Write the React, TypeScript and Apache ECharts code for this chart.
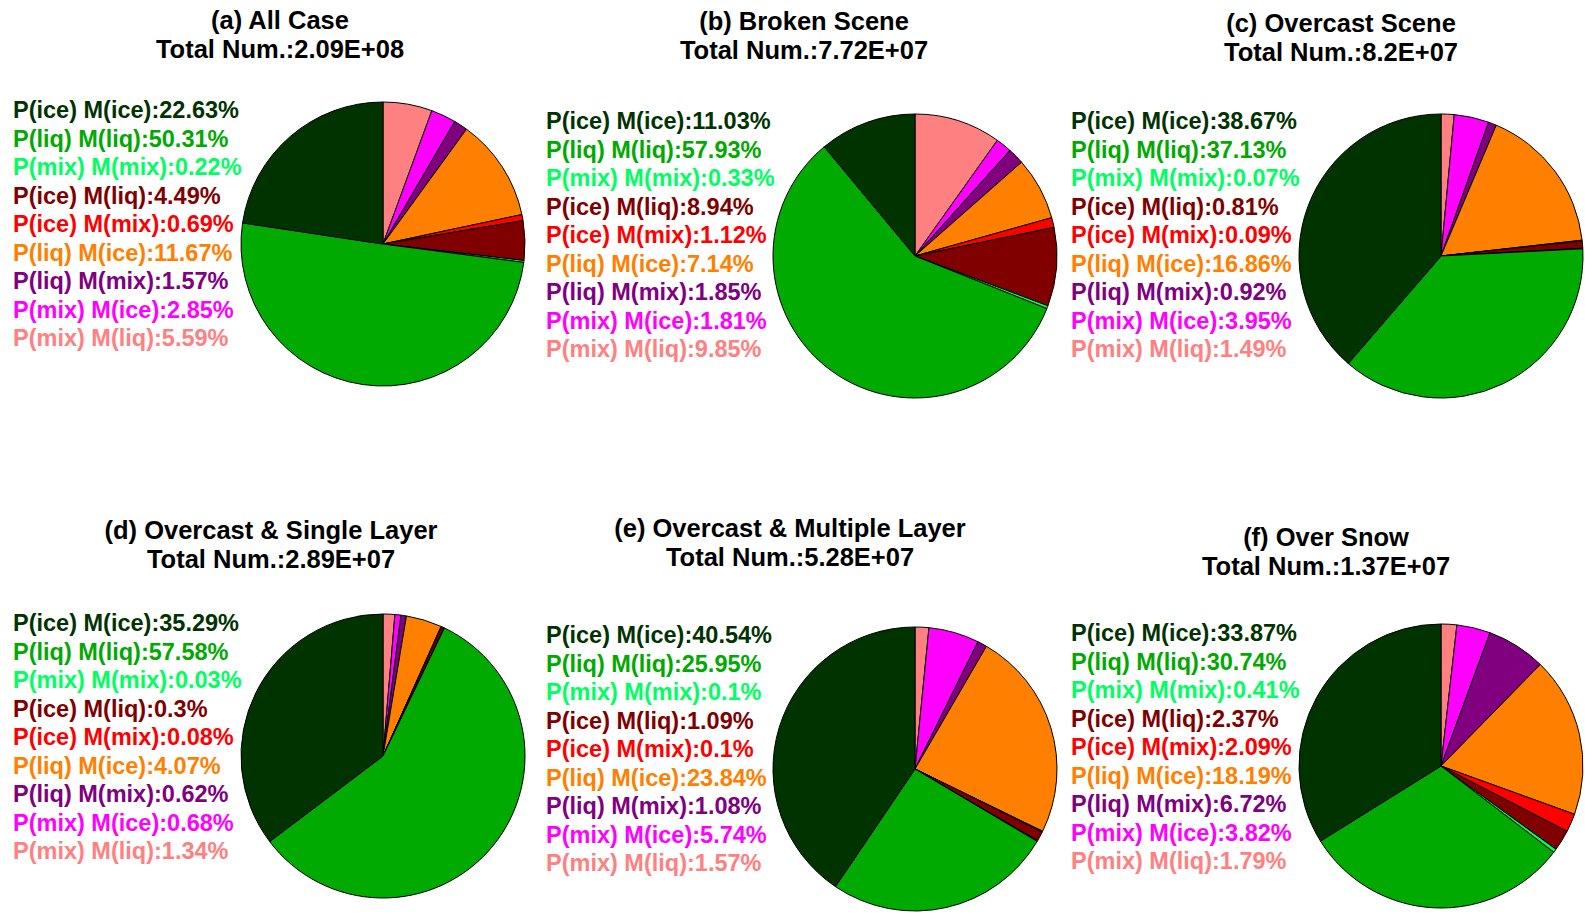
import React, { useEffect, useRef } from "react";
import * as echarts from "echarts";

// ---- Data ----
const categories = [
  "P(ice) M(ice)",
  "P(liq) M(liq)",
  "P(mix) M(mix)",
  "P(ice) M(liq)",
  "P(ice) M(mix)",
  "P(liq) M(ice)",
  "P(liq) M(mix)",
  "P(mix) M(ice)",
  "P(mix) M(liq)",
];
const categoryColors = [
  "#003300",
  "#00AA00",
  "#00FF60",
  "#800000",
  "#FF0000",
  "#FF8000",
  "#800080",
  "#FF00FF",
  "#FF8080",
];
const panelTitles = [
  "(a) All Case",
  "(b) Broken Scene",
  "(c) Overcast Scene",
  "(d) Overcast & Single Layer",
  "(e) Overcast & Multiple Layer",
  "(f) Over Snow",
];
const totals = ["2.09E+08", "7.72E+07", "8.2E+07", "2.89E+07", "5.28E+07", "1.37E+07"];
const valuesA = [22.63, 50.31, 0.22, 4.49, 0.69, 11.67, 1.57, 2.85, 5.59];
const valuesB = [11.03, 57.93, 0.33, 8.94, 1.12, 7.14, 1.85, 1.81, 9.85];
const valuesC = [38.67, 37.13, 0.07, 0.81, 0.09, 16.86, 0.92, 3.95, 1.49];
const valuesD = [35.29, 57.58, 0.03, 0.3, 0.08, 4.07, 0.62, 0.68, 1.34];
const valuesE = [40.54, 25.95, 0.1, 1.09, 0.1, 23.84, 1.08, 5.74, 1.57];
const valuesF = [33.87, 30.74, 0.41, 2.37, 2.09, 18.19, 6.72, 3.82, 1.79];
const allValues = [valuesA, valuesB, valuesC, valuesD, valuesE, valuesF];

// ---- Layout ----
const layout = [
  { cx: 383, cy: 244, tx: 280, ty: 20, lx: 13, ly: 110 },
  { cx: 915, cy: 256, tx: 804, ty: 21, lx: 546, ly: 121 },
  { cx: 1441, cy: 256, tx: 1341, ty: 23, lx: 1071, ly: 121 },
  { cx: 383, cy: 756, tx: 271, ty: 530, lx: 13, ly: 623 },
  { cx: 915, cy: 769, tx: 790, ty: 528, lx: 546, ly: 635 },
  { cx: 1441, cy: 766, tx: 1326, ty: 536.5, lx: 1071, ly: 633 },
];
const RADIUS = 142;
const LINE_GAP = 28.5;
const FONT = '"Liberation Sans", Arial, Helvetica, sans-serif';

export default function App() {
  const ref = useRef<HTMLDivElement>(null);
  useEffect(() => {
    document.body.style.margin = "0";
    document.body.style.overflow = "hidden";
    if (!ref.current) return;
    const chart = echarts.init(ref.current, null, { renderer: "svg" });

    const series: any[] = [];
    const graphic: any[] = [];
    allValues.forEach((vals, p) => {
      const L = layout[p];
      const data = categories
        .map((name, i) => ({
          name,
          value: vals[i],
          itemStyle: { color: categoryColors[i] },
        }))
        .reverse();
      series.push({
        type: "pie",
        center: [L.cx, L.cy],
        radius: RADIUS,
        startAngle: 90,
        clockwise: true,
        silent: true,
        avoidLabelOverlap: false,
        label: { show: false },
        labelLine: { show: false },
        emphasis: { disabled: true },
        itemStyle: { borderColor: "#000", borderWidth: 1 },
        data,
      });
      graphic.push({
        type: "text",
        x: L.tx,
        y: L.ty,
        style: {
          text: panelTitles[p],
          fill: "#000",
          fontSize: 25.5,
          fontWeight: "bold",
          fontFamily: FONT,
          align: "center",
          verticalAlign: "middle",
        },
      });
      graphic.push({
        type: "text",
        x: L.tx,
        y: L.ty + 29,
        style: {
          text: "Total Num.:" + totals[p],
          fill: "#000",
          fontSize: 25.5,
          fontWeight: "bold",
          fontFamily: FONT,
          align: "center",
          verticalAlign: "middle",
        },
      });
      categories.forEach((name, i) => {
        graphic.push({
          type: "text",
          x: L.lx,
          y: L.ly + i * LINE_GAP,
          style: {
            text: name + ":" + vals[i] + "%",
            fill: categoryColors[i],
            fontSize: 23.5,
            fontWeight: "bold",
            fontFamily: FONT,
            align: "left",
            verticalAlign: "middle",
          },
        });
      });
    });

    chart.setOption({
      animation: false,
      backgroundColor: "#fff",
      series,
      graphic,
    });
    return () => chart.dispose();
  }, []);
  return <div ref={ref} style={{ width: 1585, height: 915 }} />;
}
